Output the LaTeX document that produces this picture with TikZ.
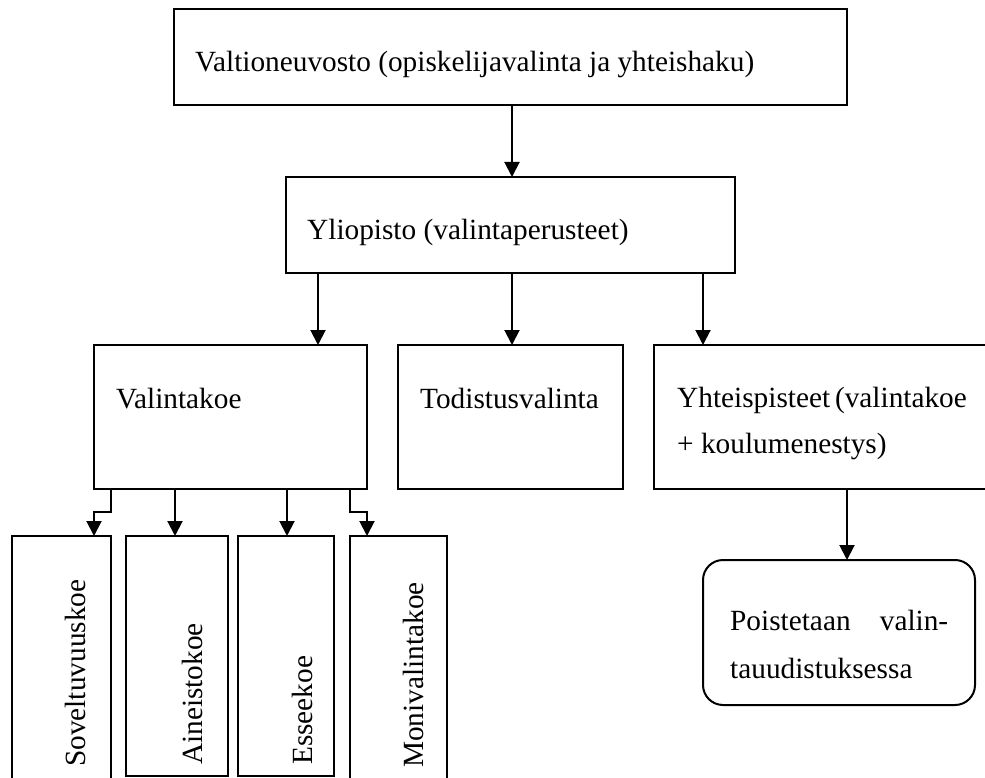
\documentclass[tikz,border=0pt]{standalone}
\usepackage{fontspec}
\setmainfont{Liberation Serif}
\usetikzlibrary{arrows.meta}
\begin{document}
\begin{tikzpicture}[x=1pt,y=-1pt,
  box/.style={draw, line width=2pt, inner sep=0pt, outer sep=0pt, anchor=north west},
  txt/.style={inner sep=0pt, anchor=base west, font=\fontsize{29.3}{35}\selectfont},
  vtxt/.style={inner sep=0pt, anchor=base west, rotate=90, font=\fontsize{29.3}{35}\selectfont},
  arr/.style={line width=2pt, -{Triangle[length=15pt,width=15pt]}}]
\useasboundingbox (0,0) rectangle (985,778);
\clip (0,0) rectangle (985,778);
% boxes
\node[box, minimum width=673pt, minimum height=96pt] (top) at (174,9) {};
\node[box, minimum width=449pt, minimum height=96pt] (uni) at (286,177) {};
\node[box, minimum width=273pt, minimum height=144pt] (vk) at (94,345) {};
\node[box, minimum width=225pt, minimum height=144pt] (tod) at (398,345) {};
\node[box, minimum width=400pt, minimum height=144pt] (yht) at (654,345) {};
\node[box, rounded corners=20pt, minimum width=272pt, minimum height=145pt] (poi) at (703,560) {};
\node[box, minimum width=99pt, minimum height=300pt] (s1) at (12,536) {};
\node[box, minimum width=102pt, minimum height=240pt] (s2) at (126,536) {};
\node[box, minimum width=96pt, minimum height=240pt] (s3) at (238,536) {};
\node[box, minimum width=97pt, minimum height=300pt] (s4) at (350,536) {};
% texts
\node[txt] (ttop) at (195,72) {Valtioneuvosto (opiskelijavalinta ja yhteishaku)};
\node[txt] (tuni) at (307,240) {Yliopisto (valintaperusteet)};
\node[txt] (tvk) at (116,408) {Valintakoe};
\node[txt] (ttod) at (420,408) {Todistusvalinta};
\node[txt] (tyht1) at (677,407) {\makebox[288pt][s]{Yhteispisteet (valintakoe}};
\node[txt] (tyht2) at (677,453) {+ koulumenestys)};
\node[txt] (tpoi1) at (730,630) {\makebox[218pt][s]{Poistetaan valin-}};
\node[txt] (tpoi2) at (730,678) {tauudistuksessa};
\node[vtxt] (ts1) at (85,767) {Soveltuvuuskoe};
\node[vtxt] (ts2) at (202,765) {Aineistokoe};
\node[vtxt] (ts3) at (312,765) {Esseekoe};
\node[vtxt] (ts4) at (423,768) {Monivalintakoe};
% x positions of connectors
\coordinate (xa) at (318,0);
\coordinate (xb) at (512,0);
\coordinate (xc) at (703,0);
\coordinate (xd) at (847,0);
\coordinate (e1) at (111,0);
\coordinate (f1) at (94,0);
\coordinate (e2) at (175,0);
\coordinate (e3) at (287,0);
\coordinate (e4) at (350,0);
\coordinate (f4) at (367,0);
% connectors
\draw[arr] (top.south -| xb) -- (uni.north -| xb);
\draw[arr] (uni.south -| xa) -- (vk.north -| xa);
\draw[arr] (uni.south -| xb) -- (tod.north -| xb);
\draw[arr] (uni.south -| xc) -- (yht.north -| xc);
\draw[arr] (yht.south -| xd) -- (poi.north -| xd);
\draw[arr] (vk.south -| e1) -- ++(0,23) -| (s1.north -| f1);
\draw[arr] (vk.south -| e2) -- (s2.north -| e2);
\draw[arr] (vk.south -| e3) -- (s3.north -| e3);
\draw[arr] (vk.south -| e4) -- ++(0,23) -| (s4.north -| f4);
\end{tikzpicture}
\end{document}
